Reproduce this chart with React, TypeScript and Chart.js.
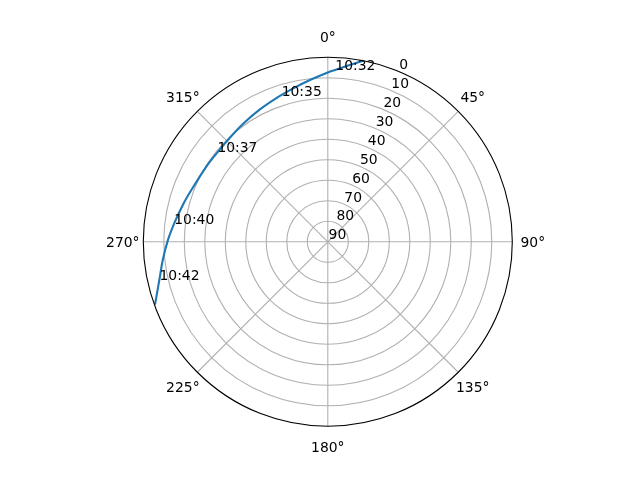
import React, { useEffect, useRef } from 'react';
import { Chart, registerables } from 'chart.js';

Chart.register(...registerables);

// satellite track: azimuth (deg, clockwise from north) / elevation (deg)
const trackAz = [11, 2.4, 0, 353.7, 347.3, 340.5, 333, 324.5, 316.6, 308.5, 301.4, 290.8, 284.9, 277.5, 270.6, 263.7, 258, 250];
const trackEl = [0, 6.1, 7.4, 10.6, 13.3, 15.5, 17.4, 19.1, 20.3, 20.7, 20.3, 18.8, 17.2, 14.8, 12.0, 9.0, 6.2, 0.3];

// time annotations along the track
const timeLabels = ['10:32', '10:35', '10:37', '10:40', '10:42'];
const timeAz = [2.5, 342.4, 309.2, 276.5, 257.2];
const timeEl = [6.1, 15.6, 20.5, 14.6, 5.8];

const elevTicks = [0, 10, 20, 30, 40, 50, 60, 70, 80, 90];
const azTicks = [0, 45, 90, 135, 180, 225, 270, 315];
const azTickLabels = ['0°', '45°', '90°', '135°', '180°', '225°', '270°', '315°'];

const FONT = '13.9px "DejaVu Sans"';
const rad = (d: number) => (d * Math.PI) / 180;
const toXY = (az: number, el: number) => ({
  x: (90 - el) * Math.sin(rad(az)),
  y: (90 - el) * Math.cos(rad(az)),
});

const polarGrid = {
  id: 'polarGrid',
  beforeDatasetsDraw(chart: any) {
    const { ctx, scales } = chart;
    const px = (p: { x: number; y: number }) => [scales.x.getPixelForValue(p.x), scales.y.getPixelForValue(p.y)];
    const [cx, cy] = px({ x: 0, y: 0 });
    ctx.save();
    ctx.strokeStyle = '#b0b0b0';
    ctx.lineWidth = 1.1;
    elevTicks.forEach(el => {
      if (el === 0 || el === 90) return;
      const r = scales.x.getPixelForValue(90 - el) - cx;
      ctx.beginPath();
      ctx.arc(cx, cy, r, 0, Math.PI * 2);
      ctx.stroke();
    });
    azTicks.forEach(az => {
      const [ex, ey] = px(toXY(az, 0));
      ctx.beginPath();
      ctx.moveTo(cx, cy);
      ctx.lineTo(ex, ey);
      ctx.stroke();
    });
    ctx.restore();
  },
  afterDatasetsDraw(chart: any) {
    const { ctx, scales } = chart;
    const px = (p: { x: number; y: number }) => [scales.x.getPixelForValue(p.x), scales.y.getPixelForValue(p.y)];
    const [cx, cy] = px({ x: 0, y: 0 });
    const R = scales.x.getPixelForValue(90) - cx;
    ctx.save();
    // outer spine
    ctx.strokeStyle = '#000000';
    ctx.lineWidth = 1.1;
    ctx.beginPath();
    ctx.arc(cx, cy, R, 0, Math.PI * 2);
    ctx.stroke();

    ctx.font = FONT;
    ctx.fillStyle = '#000000';
    ctx.textBaseline = 'alphabetic';

    // azimuth labels
    ctx.textAlign = 'center';
    azTicks.forEach((az, i) => {
      const lr = R + 20.5;
      const x = cx + lr * Math.sin(rad(az));
      const y = cy - lr * Math.cos(rad(az));
      ctx.fillText(azTickLabels[i], x, y + 5);
    });

    // elevation labels along 22.5°
    ctx.textAlign = 'left';
    elevTicks.forEach(el => {
      const [x, y] = px(toXY(22.5, el));
      ctx.fillText(String(el), x + 0.8, y - 2.4);
    });

    // time annotations
    timeLabels.forEach((t, i) => {
      const [x, y] = px(toXY(timeAz[i], timeEl[i]));
      ctx.fillText(t, x, y);
    });
    ctx.restore();
  },
};

export default function App() {
  const canvasRef = useRef<HTMLCanvasElement>(null);
  const chartRef = useRef<Chart | null>(null);

  useEffect(() => {
    if (!canvasRef.current) return;
    if (chartRef.current) chartRef.current.destroy();

    const points = trackAz.map((az, i) => toXY(az, trackEl[i]));

    chartRef.current = new Chart(canvasRef.current, {
      type: 'scatter',
      data: {
        datasets: [
          {
            data: points,
            showLine: true,
            borderColor: '#1f77b4',
            borderWidth: 2.1,
            pointRadius: 0,
            tension: 0.35,
            fill: false,
          },
        ],
      },
      options: {
        responsive: false,
        animation: false,
        devicePixelRatio: 1,
        layout: { padding: { left: 143.3, right: 127.7, top: 57.3, bottom: 53.7 } },
        plugins: { legend: { display: false }, tooltip: { enabled: false } },
        scales: {
          x: { type: 'linear', min: -90, max: 90, display: false },
          y: { type: 'linear', min: -90, max: 90, display: false },
        },
      },
      plugins: [polarGrid],
    });

    return () => {
      if (chartRef.current) {
        chartRef.current.destroy();
        chartRef.current = null;
      }
    };
  }, []);

  return (
    <div style={{ position: 'fixed', left: 0, top: 0, width: 640, height: 480, background: '#ffffff' }}>
      <canvas ref={canvasRef} width={640} height={480} />
    </div>
  );
}
